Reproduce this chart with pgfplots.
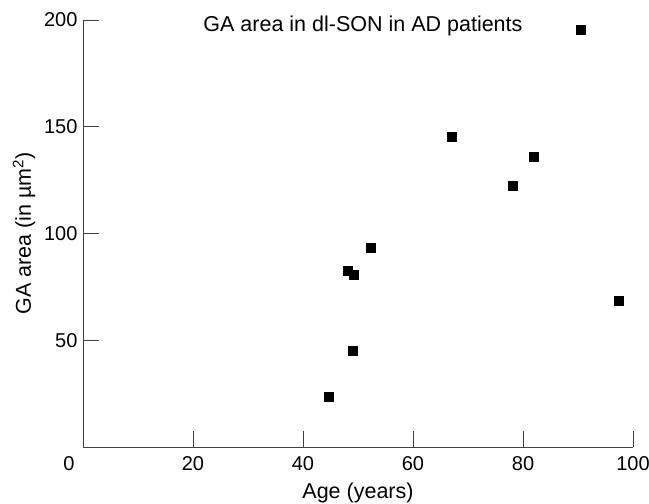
\documentclass[border=0pt]{standalone}
\usepackage{fontspec}
\setmainfont{Liberation Sans}
\usepackage{pgfplots}
\pgfplotsset{compat=1.18}

\begin{document}
\begin{tikzpicture}
\useasboundingbox (-83bp,-57bp) rectangle (566bp,447bp);
\begin{axis}[
  at={(0,0)},anchor=south west,
  scale only axis,width=550bp,height=427bp,
  xmin=0,xmax=100,ymin=0,ymax=200,
  axis lines=left,axis line style={black!75,line width=0.8bp,-},
  xtick={0,20,40,60,80,100},
  xticklabels={\makebox[0pt][r]{0\hspace{8.5bp}},20,40,60,80,100},
  ytick={50,100,150,200},
  tick align=inside,major tick length=16bp,
  tick style={black!75,line width=0.8bp},
  /pgf/number format/assume math mode=true,
  tick label style={font=\fontsize{20bp}{24bp}\selectfont},
  xticklabel style={yshift=-6bp},
  yticklabel style={xshift=-2bp},
  label style={font=\fontsize{21.5bp}{25bp}\selectfont},
  xlabel={Age (years)},
  ylabel={GA area (in µm\textsuperscript{2})},
  xlabel style={at={(axis description cs:0.5,0)},anchor=center,yshift=-46bp},
  ylabel style={at={(axis description cs:-0.107,0.5)},anchor=center},
  clip=false,
]
\addplot[only marks,mark=square*,mark size=4.5bp,black] coordinates {
  (44.7,23.6) (49.0,45.0) (48.1,82.4) (49.2,80.7) (52.3,93.3)
  (67.0,145.3) (78.2,122.2) (81.9,136.0) (90.5,195.3) (97.4,68.5)
};
\node[font=\fontsize{21.5bp}{25bp}\selectfont] at (rel axis cs:0.509,0.985) {GA area in dl-SON in AD patients};
\end{axis}
\end{tikzpicture}
\end{document}
